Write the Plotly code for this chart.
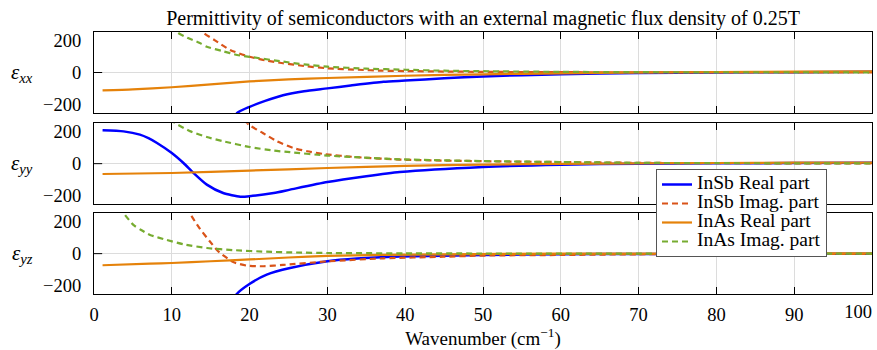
import plotly.graph_objects as go
from plotly.subplots import make_subplots

# ---------------- data ----------------
SERIES_NAMES = ["InSb Real part", "InSb Imag. part", "InAs Real part", "InAs Imag. part"]
ROW_LABELS = ["<i>ε<sub>xx</sub></i>", "<i>ε<sub>yy</sub></i>", "<i>ε<sub>yz</sub></i>"]
TITLE = "Permittivity of semiconductors with an external magnetic flux density of 0.25T"
X_TITLE = "Wavenumber (cm<sup>−1</sup>)"
X_TICKS = [0, 10, 20, 30, 40, 50, 60, 70, 80, 90, 100]
X_TICK_TEXT = ["0", "10", "20", "30", "40", "50", "60", "70", "80", "90", ""]
X_LAST_TICK = [100]
X_LAST_TEXT = ["100"]
Y_TICKS = [-200, 0, 200]

# eps_xx
xx_insb_re_x = [17.5, 18.4, 20, 22, 24.3, 27, 30, 33, 37.2, 40, 45, 50, 60, 70, 80, 90, 100]
xx_insb_re_y = [-320, -250, -212, -175, -140, -115, -98, -80, -57, -50, -36, -24, -10, -3, 0, 2, 4]
xx_insb_im_x = [13.5, 14.1, 15.5, 17.5, 20, 22, 24.3, 27, 30, 34, 37, 40, 45, 50, 60, 70, 80, 90, 100]
xx_insb_im_y = [290, 245, 200, 139, 97, 75, 57, 40, 26, 17, 11, 9, 6, 4, 2, 1, 0, 0, 0]
xx_inas_re_x = [1.1, 5, 10, 15, 20, 25, 30, 40, 50, 60, 70, 80, 90, 100]
xx_inas_re_y = [-110, -104, -91, -73, -55, -43, -34, -20, -11, -5, 0, 3, 5, 7]
xx_inas_im_x = [10, 10.8, 12, 13.6, 14.5, 16.6, 18.4, 20, 24.3, 27, 30, 35, 40, 45, 50, 60, 70, 80, 90, 100]
xx_inas_im_y = [290, 245, 215, 182, 159, 131, 108, 97, 67, 50, 36, 24, 17, 11, 8, 4, 2, 1, 1, 0]

# eps_yy
yy_insb_re_x = [1.1, 3.8, 5.9, 7, 8.1, 10, 11.5, 12.8, 14.5, 16.6, 18.8, 20, 23.1, 25.2, 30, 35, 39.3, 50, 60, 70, 80, 90, 100]
yy_insb_re_y = [207, 200, 180, 158, 128, 66, 4, -58, -130, -182, -205, -202, -182, -161, -114, -78, -52, -20, -6, 0, 2, 4, 5]
yy_insb_im_x = [19.3, 20, 21.7, 23.5, 25.6, 27.4, 29.5, 33.8, 39.3, 50, 60, 70, 80, 90, 100]
yy_insb_im_y = [270, 238, 190, 139, 97, 77, 60, 40, 25, 15, 10, 5, 3, 2, 1]
yy_inas_re_x = [1.1, 10, 20, 30, 40, 50, 60, 70, 80, 90, 100]
yy_inas_re_y = [-64, -58, -43, -27, -14, -6, -1, 2, 4, 6, 7]
yy_inas_im_x = [9.8, 10.4, 12.4, 14.5, 16.6, 20, 23.1, 25.2, 30, 33.8, 39.3, 50, 60, 70, 80, 90, 100]
yy_inas_im_y = [275, 252, 200, 165, 139, 103, 81, 71, 50, 40, 27, 16, 10, 5, 3, 2, 1]

# eps_yz
yz_insb_re_x = [17.8, 18.35, 19.98, 22.2, 25.2, 30, 33.8, 39.3, 50, 60, 70, 80, 90, 100]
yz_insb_re_y = [-300, -250, -188, -130, -89, -47, -30, -18, -8, -4, -2, -1, -1, -1]
yz_insb_im_x = [12, 12.3, 13.6, 14.9, 15.8, 16.2, 17.9, 19.6, 21.8, 24.3, 30, 37.2, 44.9, 50, 60, 70, 80, 90, 100]
yz_insb_im_y = [290, 252, 155, 75, 23, 5, -52, -74, -78, -70, -48, -29, -19, -12, -8, -4, -3, -2, -2]
yz_inas_re_x = [1.1, 7.2, 10, 15, 20, 25, 30, 37, 45, 60, 80, 100]
yz_inas_re_y = [-72, -62, -58, -47, -36, -24, -14, -8, -4, 0, 1, 2]
yz_inas_im_x = [3.3, 3.8, 5.06, 6, 7.2, 9.35, 11.5, 14.5, 17.9, 22.2, 26, 30, 40, 50, 100]
yz_inas_im_y = [290, 252, 178, 148, 116, 85, 58, 35, 22, 12, 7, 4, 2, 1, 0]

PANELS = [
    [(xx_insb_re_x, xx_insb_re_y), (xx_insb_im_x, xx_insb_im_y), (xx_inas_re_x, xx_inas_re_y), (xx_inas_im_x, xx_inas_im_y)],
    [(yy_insb_re_x, yy_insb_re_y), (yy_insb_im_x, yy_insb_im_y), (yy_inas_re_x, yy_inas_re_y), (yy_inas_im_x, yy_inas_im_y)],
    [(yz_insb_re_x, yz_insb_re_y), (yz_insb_im_x, yz_insb_im_y), (yz_inas_re_x, yz_inas_re_y), (yz_inas_im_x, yz_inas_im_y)],
]

# ---------------- styling ----------------
COLORS = ["#0000FF", "#D95319", "#E5820A", "#77AC30"]
DASHES = ["solid", "6px,4px", "solid", "6px,4px"]
WIDTHS = [2.5, 2.2, 2.2, 2.2]
FONT = "Liberation Serif, Times New Roman, Times, DejaVu Serif, serif"
GRID = "#DCDCDC"
TICKFONT = dict(family=FONT, size=18.5, color="black")

W, H = 877, 350
ML, MR, MT, MB = 94, 5, 32, 56
PW = W - ML - MR   # 778
PH = H - MT - MB   # 262

fig = make_subplots(rows=3, cols=1, shared_xaxes=True)

for r, panel in enumerate(PANELS):
    for k, (xs, ys) in enumerate(panel):
        fig.add_trace(go.Scatter(
            x=xs, y=ys, mode="lines",
            name='<span style="font-size:19.5px">%s</span>' % SERIES_NAMES[k],
            legendgroup=SERIES_NAMES[k], showlegend=(r == 0),
            line=dict(color=COLORS[k], width=WIDTHS[k], dash=DASHES[k], shape="spline", smoothing=0.6),
        ), row=r + 1, col=1)

domains = [[0.6908, 1.0], [0.3435, 0.6515], [0.0, 0.308]]
for r in range(3):
    fig.update_yaxes(
        domain=domains[r], range=[-250, 250], tickvals=Y_TICKS,
        ticks="", showgrid=False, zeroline=True, zerolinecolor=GRID, zerolinewidth=1,
        showline=True, linecolor="black", linewidth=1, mirror=True, automargin=False,
        tickfont=TICKFONT, ticklabelstandoff=8,
        row=r + 1, col=1)
    fig.update_xaxes(
        range=[0, 100], tickvals=X_TICKS, ticktext=X_TICK_TEXT,
        ticks="inside", ticklen=7, tickcolor="black", tickwidth=1,
        showgrid=True, gridcolor=GRID, gridwidth=1, zeroline=False,
        showline=True, linecolor="black", linewidth=1, mirror="ticks",
        showticklabels=(r == 2), automargin=False,
        tickfont=TICKFONT, ticklabelstandoff=4,
        row=r + 1, col=1)
    yref = "y" if r == 0 else "y%d" % (r + 1)
    xdom = "x domain" if r == 0 else "x%d domain" % (r + 1)
    fig.add_shape(type="line", xref=xdom, yref=yref, x0=0, x1=0.0105, y0=0, y1=0,
                  line=dict(color="black", width=1))
    fig.add_annotation(text=ROW_LABELS[r], xref="paper", yref=yref, x=(22 - ML) / PW, y=0,
                       showarrow=False, xanchor="center", yanchor="middle",
                       font=dict(family=FONT, size=21, color="black"))

# x-axis title on the bottom axis
fig.update_xaxes(title=dict(text=X_TITLE, font=dict(family=FONT, size=19, color="black"), standoff=8),
                 row=3, col=1)

# overlay axis carrying only the last tick label, shifted left so it stays inside the page
fig.add_trace(go.Scatter(x=[], y=[], xaxis="x4", yaxis="y3", showlegend=False, hoverinfo="skip"))
fig.update_layout(xaxis4=dict(
    overlaying="x3", anchor="y3", side="bottom", range=[0, 100],
    tickvals=X_LAST_TICK, ticktext=X_LAST_TEXT, ticks="", showline=False, showgrid=False,
    zeroline=False, ticklabelshift=-14, ticklabelstandoff=4, ticklabeloverflow="allow",
    automargin=False, tickfont=TICKFONT,
))

fig.update_layout(
    width=W, height=H,
    margin=dict(l=ML, r=MR, t=MT, b=MB, autoexpand=False),
    paper_bgcolor="white", plot_bgcolor="white",
    font=dict(family=FONT, color="black"),
    title=dict(text=TITLE, x=0.5, xref="paper", xanchor="center",
               y=1 - 17.5 / H, yref="container", yanchor="middle",
               font=dict(family=FONT, size=20, color="black")),
    legend=dict(x=(656 - ML) / PW, y=(PH + MT - 169) / PH, xanchor="left", yanchor="top",
                bgcolor="white", bordercolor="#555555", borderwidth=1,
                font=dict(family=FONT, size=11.5, color="black"),
                tracegroupgap=0, itemwidth=30),
)

fig.write_html(
    "out.html",
    config={"displayModeBar": False},
    post_script="document.body.style.margin='0px';document.body.style.overflow='hidden';"
                "document.documentElement.style.overflow='hidden';",
)
